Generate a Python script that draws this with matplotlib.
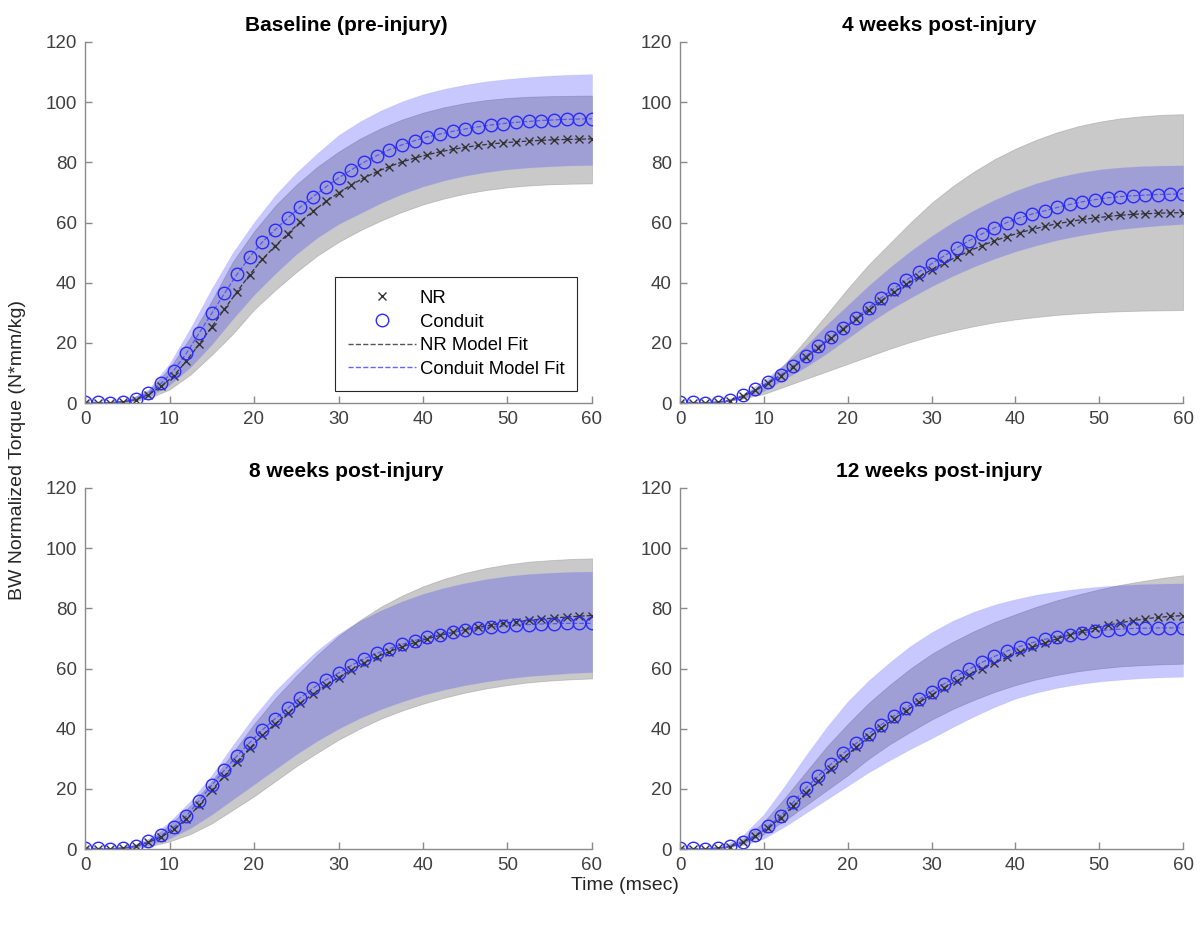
import matplotlib
matplotlib.use('Agg')
import matplotlib.pyplot as plt
from matplotlib.lines import Line2D

plt.rcParams['font.family'] = ['Liberation Sans', 'DejaVu Sans']

# ---------------- data ----------------
time_pts = [0, 1.5, 3, 4.5, 6, 7.5, 9, 10.5, 12, 13.5, 15, 16.5, 18, 19.5, 21,
            22.5, 24, 25.5, 27, 28.5, 30, 31.5, 33, 34.5, 36, 37.5, 39, 40.5,
            42, 43.5, 45, 46.5, 48, 49.5, 51, 52.5, 54, 55.5, 57, 58.5, 60]
time_band = [0, 2.5, 5, 7.5, 10, 12.5, 15, 17.5, 20, 22.5, 25, 27.5, 30, 32.5,
             35, 37.5, 40, 42.5, 45, 47.5, 50, 52.5, 55, 57.5, 60]

titles = ['Baseline (pre-injury)', '4 weeks post-injury',
          '8 weeks post-injury', '12 weeks post-injury']

# Baseline
nr_base = [0, 0, 0.1, 0.4, 1.1, 2.8, 5.5, 9, 14, 19.5,
           25.3, 31.2, 37, 42.7, 47.8, 52.2, 56.2, 60.3, 63.8, 67,
           69.8, 72.5, 74.8, 76.8, 78.6, 80.1, 81.4, 82.5, 83.5, 84.3,
           85, 85.6, 86.1, 86.5, 86.8, 87.1, 87.3, 87.5, 87.6, 87.7, 87.8]
cond_base = [0.3, 0.2, 0.1, 0.4, 1.2, 3.2, 6.5, 10.8, 16.5, 23.2,
             29.8, 36.4, 42.8, 48.6, 53.5, 57.6, 61.5, 65.2, 68.6, 71.8,
             74.8, 77.5, 80, 82.2, 84.2, 85.8, 87.2, 88.4, 89.4, 90.3,
             91.1, 91.8, 92.4, 92.9, 93.3, 93.6, 93.9, 94.1, 94.3, 94.4, 94.5]
nr_hi_base = [0, 0, 0.8, 4, 11.5, 22, 34, 47, 57, 65.5, 72.5, 78.5, 83.5,
              87.8, 91.3, 94.2, 96.5, 98.3, 99.7, 100.7, 101.4, 101.8, 102, 102.1, 102.2]
nr_lo_base = [0, 0, 0.3, 1.5, 4.5, 9.5, 16, 23, 31, 37.5, 43.5, 49, 53.5,
              57.3, 60.6, 63.5, 66, 68, 69.6, 70.8, 71.7, 72.3, 72.7, 72.9, 73]
cond_hi_base = [0, 0, 1, 4.5, 13, 25, 38, 50, 60, 69, 76.5, 83, 89,
                93.5, 97.2, 100.2, 102.6, 104.4, 105.8, 106.9, 107.7, 108.3, 108.8, 109.1, 109.3]
cond_lo_base = [0, 0, 0.4, 2, 6, 12, 19.5, 28, 36, 43, 49.5, 55, 59.5,
                63, 66.5, 69.5, 72, 74, 75.6, 76.8, 77.7, 78.3, 78.7, 79, 79.1]

# 4 weeks
nr_4 = [0, 0, 0, 0.3, 0.8, 2.3, 4.2, 6.6, 9, 12,
        15.2, 18.4, 21.5, 24.6, 27.8, 31, 34, 36.8, 39.4, 41.9,
        44.3, 46.5, 48.6, 50.5, 52.3, 53.9, 55.3, 56.6, 57.7, 58.7,
        59.6, 60.3, 61, 61.5, 62, 62.4, 62.7, 62.9, 63.1, 63.2, 63.3]
cond_4 = [0.3, 0.2, 0.1, 0.3, 0.9, 2.5, 4.5, 6.9, 9.3, 12.3,
          15.6, 18.8, 21.9, 25, 28.4, 31.7, 35, 38, 40.8, 43.6,
          46.3, 48.9, 51.5, 54, 56.2, 58.2, 60, 61.5, 62.8, 63.9,
          65, 66, 66.9, 67.6, 68.2, 68.6, 68.9, 69.1, 69.3, 69.4, 69.5]
nr_hi_4 = [0, 0, 0.5, 2.5, 6, 13, 21, 29.5, 38, 46, 53, 60, 66.5,
           72, 76.8, 81, 84.5, 87.5, 90, 92, 93.5, 94.6, 95.3, 95.8, 96]
nr_lo_4 = [0, 0, 0.3, 1.5, 3, 5.5, 8, 10.5, 13, 15.5, 18, 20.3, 22.3,
           24, 25.5, 26.8, 27.8, 28.6, 29.3, 29.8, 30.2, 30.5, 30.7, 30.8, 30.9]
cond_hi_4 = [0, 0, 0.6, 3, 7.5, 13, 19, 26, 32.5, 39, 45, 50.5, 55.5,
             60, 64, 67.5, 70.5, 73, 75, 76.5, 77.6, 78.3, 78.7, 78.9, 79]
cond_lo_4 = [0, 0, 0.2, 1.5, 4, 8, 12, 16.5, 21.5, 26.5, 31, 35, 38.8,
             42.2, 45.3, 48, 50.4, 52.4, 54.2, 55.6, 56.8, 57.8, 58.5, 59.1, 59.5]

# 8 weeks
nr_8 = [0, 0, 0, 0.3, 0.9, 2.2, 4, 6.5, 10, 14.5,
        19.5, 24.3, 29, 33.5, 37.8, 41.6, 45.2, 48.5, 51.6, 54.4,
        57, 59.5, 61.8, 63.8, 65.6, 67.2, 68.6, 69.9, 71, 72,
        72.9, 73.7, 74.4, 75, 75.5, 76, 76.4, 76.8, 77.1, 77.4, 77.6]
cond_8 = [0.3, 0.2, 0.1, 0.4, 1, 2.5, 4.5, 7.2, 11, 16,
          21.2, 26.2, 31, 35.4, 39.6, 43.3, 46.8, 50.3, 53.5, 56.2,
          58.5, 61, 63.2, 65, 66.6, 68, 69.3, 70.4, 71.3, 72.1,
          72.8, 73.3, 73.8, 74.1, 74.4, 74.6, 74.8, 74.9, 75, 75, 75]
nr_hi_8 = [0, 0, 0.4, 2.8, 8, 14.5, 22.5, 32, 41.5, 50, 57.5, 64.5, 70.8,
           76, 80.5, 84.2, 87.3, 89.8, 91.8, 93.4, 94.6, 95.5, 96, 96.4, 96.6]
nr_lo_8 = [0, 0, 0.1, 0.8, 2.5, 5, 8.5, 13, 17.5, 22.5, 27.5, 32, 36.3,
           40, 43.3, 46, 48.3, 50.3, 52, 53.4, 54.5, 55.4, 56, 56.4, 56.7]
cond_hi_8 = [0, 0, 0.6, 3.5, 9, 16, 24.5, 34.5, 44, 52.5, 59.5, 66, 71.5,
             75.8, 79.3, 82.3, 84.8, 86.8, 88.4, 89.7, 90.7, 91.4, 91.8, 92.1, 92.2]
cond_lo_8 = [0, 0, 0.2, 1.2, 3.5, 7, 11.5, 16.5, 21.5, 26.5, 31.5, 36, 40,
             43.5, 46.5, 49, 51.2, 53, 54.5, 55.7, 56.7, 57.5, 58, 58.5, 58.8]

# 12 weeks
nr_12 = [0, 0, 0, 0.3, 0.8, 2.2, 4.3, 7, 10.3, 14.3,
         18.6, 22.7, 26.6, 30.3, 33.8, 37.1, 40.2, 43.2, 46, 48.7,
         51.2, 53.6, 55.9, 58, 60, 61.9, 63.7, 65.4, 67, 68.5,
         69.9, 71.2, 72.4, 73.5, 74.4, 75.2, 75.9, 76.5, 77, 77.3, 77.6]
cond_12 = [0.3, 0.2, 0.1, 0.3, 0.9, 2.4, 4.6, 7.5, 11, 15.5,
           20.2, 24.3, 28.2, 31.8, 35.1, 38.3, 41.3, 44.2, 47, 49.7,
           52.3, 54.9, 57.5, 59.8, 62, 64, 65.8, 67.3, 68.6, 69.7,
           70.6, 71.3, 71.9, 72.4, 72.8, 73.1, 73.3, 73.4, 73.5, 73.5, 73.5]
nr_hi_12 = [0, 0, 0.5, 3.2, 9, 17, 25.5, 34, 41.5, 48.5, 54.5, 60, 64.8,
            68.8, 72.3, 75.4, 78, 80.5, 82.7, 84.6, 86.3, 87.8, 89, 90.1, 91]
nr_lo_12 = [0, 0, 0.3, 1.8, 5, 9.5, 14.5, 19.5, 24.5, 30, 34.8, 39, 43,
            46.5, 49.5, 52.2, 54.5, 56.4, 57.9, 59.1, 60, 60.7, 61.1, 61.4, 61.6]
cond_hi_12 = [0, 0, 0.8, 4.5, 11.5, 21, 31, 40.5, 49, 56, 62, 67.5, 72,
              75.8, 78.8, 81.2, 83, 84.5, 85.6, 86.5, 87.2, 87.7, 88, 88.2, 88.3]
cond_lo_12 = [0, 0, 0.2, 1.2, 3.5, 7.5, 12, 16.5, 21, 25.5, 29.5, 33.3, 36.8,
              40.5, 44, 47.2, 50, 52, 53.6, 54.8, 55.7, 56.3, 56.8, 57.1, 57.3]

panels = [
    (nr_base, cond_base, nr_lo_base, nr_hi_base, cond_lo_base, cond_hi_base),
    (nr_4, cond_4, nr_lo_4, nr_hi_4, cond_lo_4, cond_hi_4),
    (nr_8, cond_8, nr_lo_8, nr_hi_8, cond_lo_8, cond_hi_8),
    (nr_12, cond_12, nr_lo_12, nr_hi_12, cond_lo_12, cond_hi_12),
]

x_ticks = [0, 10, 20, 30, 40, 50, 60]
y_ticks = [0, 20, 40, 60, 80, 100, 120]
legend_labels = ['NR', 'Conduit', 'NR Model Fit', 'Conduit Model Fit']

# ---------------- style ----------------
W, H = 1202, 926
fig = plt.figure(figsize=(W / 100, H / 100), dpi=100)

def rect(x0, x1, ytop, ybot):
    return [x0 / W, 1 - ybot / H, (x1 - x0) / W, (ybot - ytop) / H]

rects = [rect(85, 592, 42, 403), rect(680, 1183, 42, 403),
         rect(85, 592, 488, 849), rect(680, 1183, 488, 849)]

gray_fill = '#808080'
blue_fill = '#1a1aff'
axis_col = '#8a8a8a'
label_col = '#404040'

for i, (rc, data) in enumerate(zip(rects, panels)):
    nr, cond, nr_lo, nr_hi, c_lo, c_hi = data
    ax = fig.add_axes(rc)
    ax.fill_between(time_band, nr_lo, nr_hi, color=gray_fill, alpha=0.42,
                    linewidth=0.6, edgecolor='#888888')
    ax.fill_between(time_band, c_lo, c_hi, color=blue_fill, alpha=0.24,
                    linewidth=0.6, edgecolor='#9999ee')
    ax.plot(time_pts, nr, linestyle='--', color='#333333', linewidth=0.9)
    ax.plot(time_pts, cond, linestyle='--', color='#5555ff', linewidth=0.9)
    ax.plot(time_pts, nr, linestyle='none', marker='x', color='#333333',
            markersize=6, markeredgewidth=1.0)
    ax.plot(time_pts, cond, linestyle='none', marker='o', markerfacecolor='none',
            markeredgecolor='#2a2aff', markersize=9, markeredgewidth=1.0)
    ax.set_xlim(0, 60)
    ax.set_ylim(0, 120)
    ax.set_xticks(x_ticks)
    ax.set_yticks(y_ticks)
    for s in ['top', 'right']:
        ax.spines[s].set_visible(False)
    for s in ['left', 'bottom']:
        ax.spines[s].set_color(axis_col)
        ax.spines[s].set_linewidth(1.0)
    ax.tick_params(direction='in', length=5, width=1.0, color=axis_col,
                   labelsize=13.5, labelcolor=label_col, pad=6)
    ax.set_title(titles[i], fontsize=15, fontweight='bold', pad=8, x=0.515)

    if i == 0:
        handles = [
            Line2D([], [], linestyle='none', marker='x', color='#333333',
                   markersize=6, markeredgewidth=1.0),
            Line2D([], [], linestyle='none', marker='o', markerfacecolor='none',
                   markeredgecolor='#2a2aff', markersize=9, markeredgewidth=1.0),
            Line2D([], [], linestyle='--', color='#555555', linewidth=1.0),
            Line2D([], [], linestyle='--', color='#6666ff', linewidth=1.0),
        ]
        leg = ax.legend(handles, legend_labels, loc='upper left',
                        bbox_to_anchor=(0.493, 0.349), borderaxespad=0,
                        fontsize=13.3, frameon=True, fancybox=False,
                        handlelength=3.7, handletextpad=0.2,
                        labelspacing=0.36, borderpad=0.7, framealpha=1)
        leg.get_frame().set_edgecolor('#262626')
        leg.get_frame().set_linewidth(0.8)

fig.text(18 / W, 1 - 450 / H, 'BW Normalized Torque (N*mm/kg)', rotation=90,
         ha='center', va='center', fontsize=14, color='#262626')
fig.text(625 / W, 1 - 885 / H, 'Time (msec)', ha='center', va='center',
         fontsize=14, color='#262626')

fig.savefig('out.png', dpi=100)
